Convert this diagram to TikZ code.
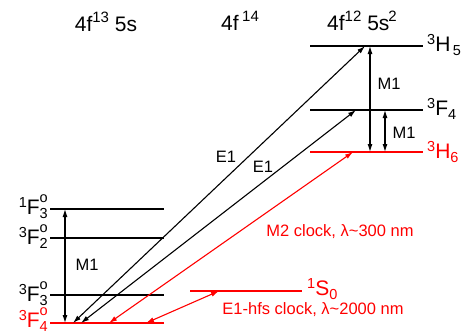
\documentclass[tikz,border=0pt]{standalone}
\usepackage{fontspec}
\setmainfont{Liberation Sans}
\usetikzlibrary{arrows.meta}
\newcommand\smallf{\fontsize{14.5}{14.5}\selectfont}
\newcommand\lvlab[4]{{\smallf\raisebox{7pt}{#1}}#2\rlap{\smallf\raisebox{12pt}{#4}}{\smallf\raisebox{-4pt}{#3}}}
\newcommand\sups[1]{{\fontsize{15}{15}\selectfont\raisebox{9pt}{#1}}}
\begin{document}
\begin{tikzpicture}[x=1pt,y=-1pt,
  lvl/.style={line width=1.3pt},
  arr/.style={line width=1.1pt,{Latex[length=8pt,width=5pt]}-{Latex[length=8pt,width=5pt]}},
  lab/.style={inner sep=0pt,font=\fontsize{21}{21}\selectfont},
  tlab/.style={inner sep=0pt,font=\fontsize{16.5}{16.5}\selectfont}]
\useasboundingbox (0,0) rectangle (470,335);
% headers
\node[lab] (h1) at (106,22) {4f\sups{13} 5s};
\node[lab] (h2) at (240,21) {4f\,\sups{14}};
\node[lab] (h3) at (362,21) {4f\sups{12} 5s\kern-1pt\sups{2}};
% left levels
\coordinate (a1) at (50,209); \coordinate (a1e) at (164,209);
\coordinate (a2) at (50,238); \coordinate (a2e) at (164,238);
\coordinate (a3) at (50,295); \coordinate (a3e) at (164,295);
\coordinate (a4) at (50,323); \coordinate (a4e) at (164,323);
\draw[lvl] (a1) -- (a1e);
\draw[lvl] (a2) -- (a2e);
\draw[lvl] (a3) -- (a3e);
\draw[lvl,red] (a4) -- (a4e);
% right levels
\coordinate (b1) at (310,46); \coordinate (b1e) at (423,46);
\coordinate (b2) at (310,110); \coordinate (b2e) at (423,110);
\coordinate (b3) at (310,152); \coordinate (b3e) at (423,152);
\draw[lvl] (b1) -- (b1e);
\draw[lvl] (b2) -- (b2e);
\draw[lvl,red] (b3) -- (b3e);
% 1S0
\coordinate (s0) at (190,291); \coordinate (s0e) at (302,291);
\draw[lvl,red] (s0) -- (s0e);
% level labels
\node[lab,anchor=east] (l1) at (48,207) {\lvlab{1}{F}{3}{o}};
\node[lab,anchor=east] (l2) at (48,237) {\lvlab{3}{F}{2}{o}};
\node[lab,anchor=east] (l3) at (48,294) {\lvlab{3}{F}{3}{o}};
\node[lab,anchor=east,red] (l4) at (48,320) {\lvlab{3}{F}{4}{o}};
\node[lab,anchor=west] (r1) at (427,45) {\lvlab{3}{H}{\,5}{}};
\node[lab,anchor=west] (r2) at (427,109) {\lvlab{3}{F}{4}{}};
\node[lab,anchor=west,red] (r3) at (427,152) {\lvlab{3}{H}{6}{}};
\node[lab,anchor=west,red] (r4) at (307,289) {\lvlab{1}{S}{0}{}};
% arrow end points
\coordinate (p1) at (65,209); \coordinate (q1) at (65,323);
\coordinate (p2) at (370,46); \coordinate (q2) at (370,152);
\coordinate (p3) at (385,110); \coordinate (q3) at (385,152);
\coordinate (e1a) at (73,323); \coordinate (e1b) at (365,46);
\coordinate (e2a) at (81,323); \coordinate (e2b) at (356,110);
\coordinate (m2a) at (109,323); \coordinate (m2b) at (353,152);
\coordinate (hfa) at (146,323); \coordinate (hfb) at (219,291);
% arrows
\draw[arr] (p1) -- (q1);
\draw[arr] (p2) -- (q2);
\draw[arr] (p3) -- (q3);
\draw[arr] (e1a) -- (e1b);
\draw[arr] (e2a) -- (e2b);
\draw[arr,red] (m2a) -- (m2b);
\draw[arr,red] (hfa) -- (hfb);
% transition labels
\node[tlab] (t1) at (87,265) {M1};
\node[tlab] (t2) at (389,84) {M1};
\node[tlab] (t3) at (404,133) {M1};
\node[tlab] (t4) at (226,157) {E1};
\node[tlab] (t5) at (263,167) {E1};
\node[tlab,red] (t6) at (340,232) {M2 clock, λ\textasciitilde 300 nm};
\node[tlab,red] (t7) at (313,310) {E1-hfs clock, λ\textasciitilde 2000 nm};
\end{tikzpicture}
\end{document}
